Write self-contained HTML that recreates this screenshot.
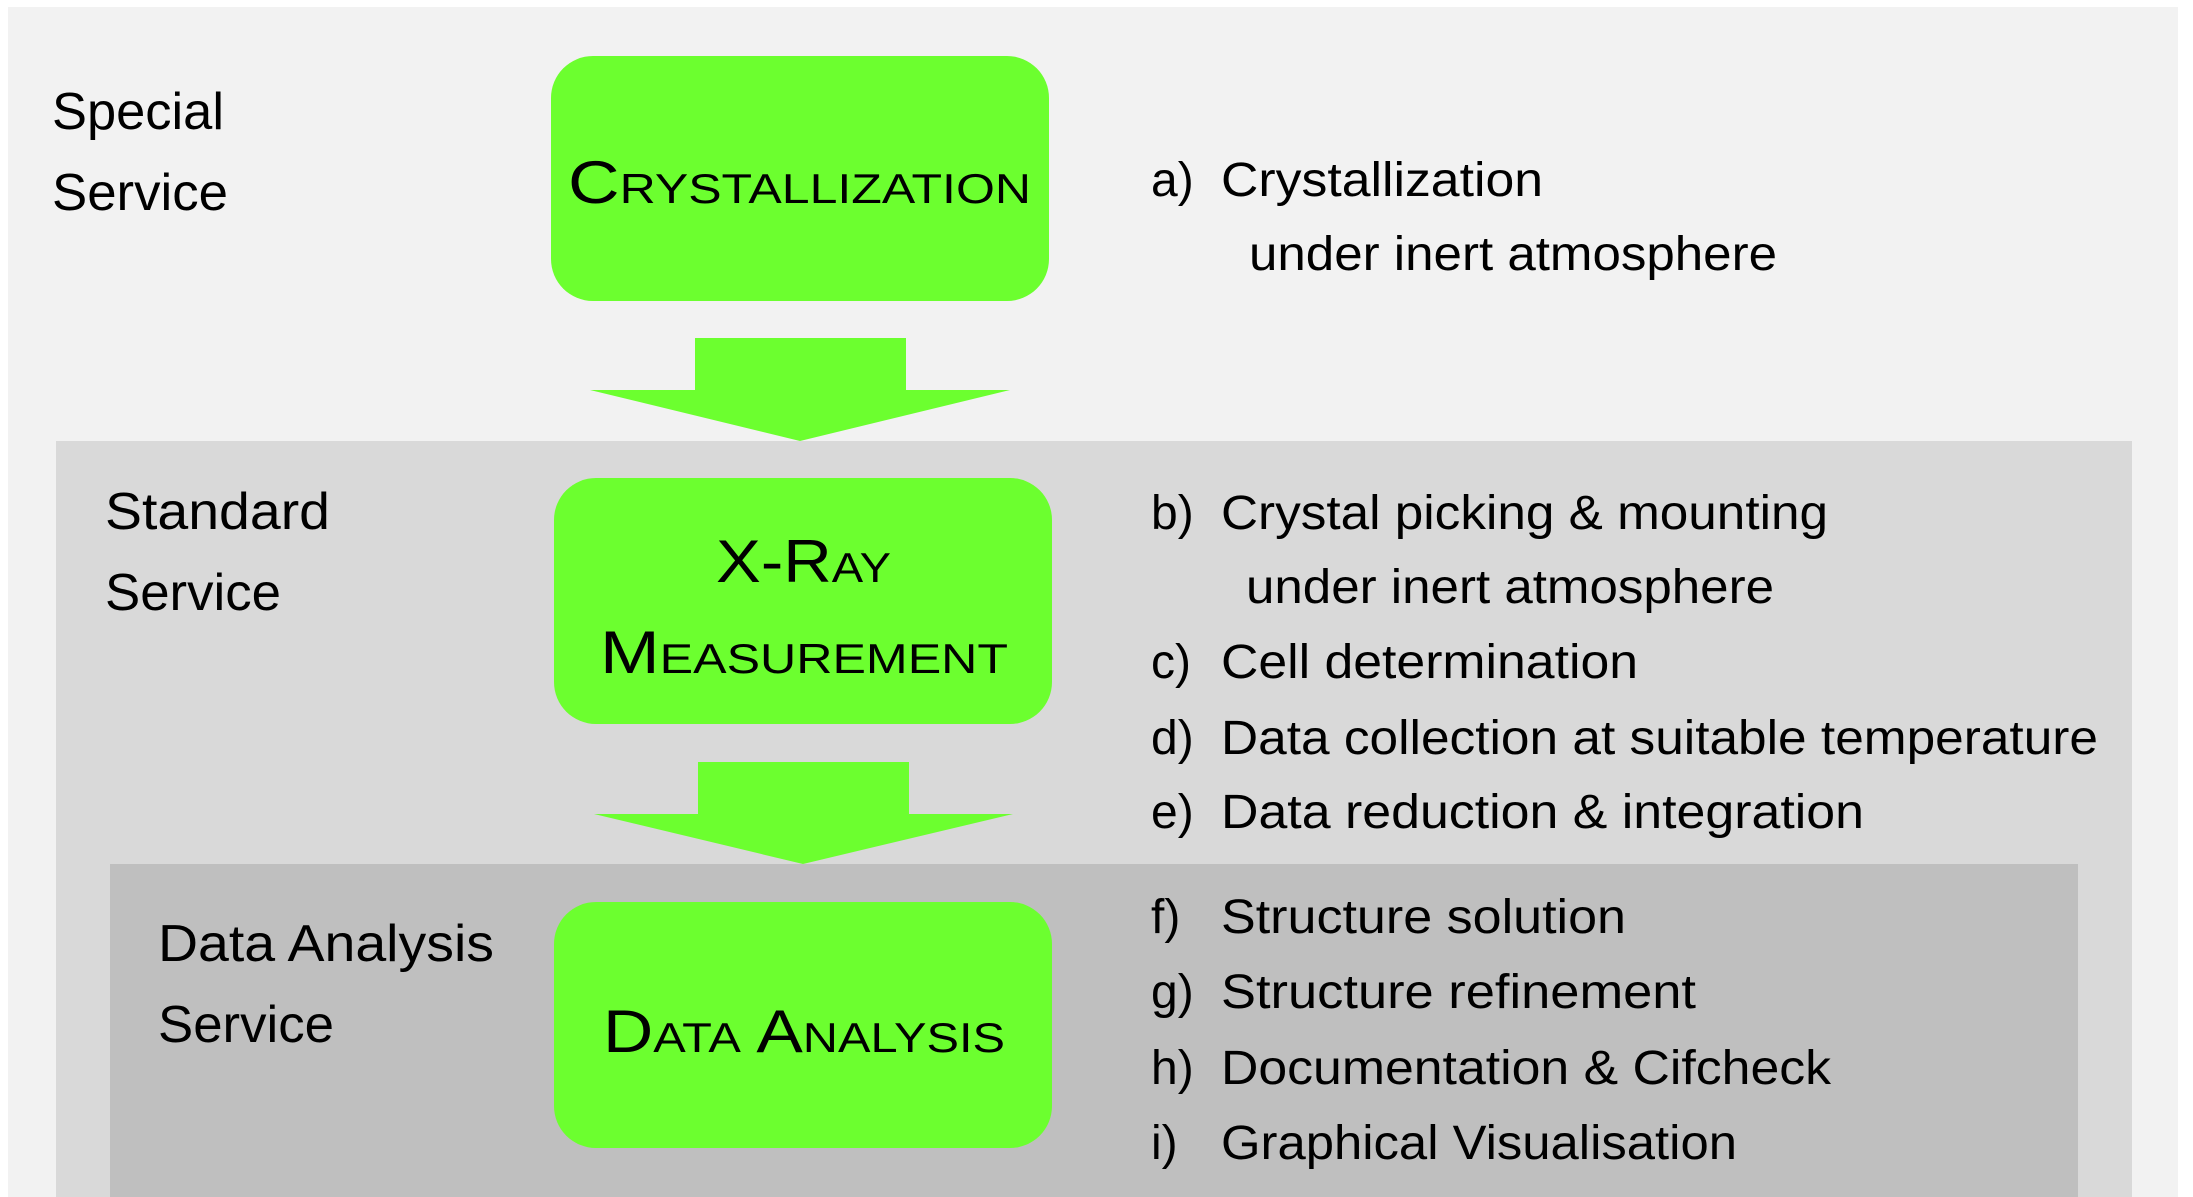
<!DOCTYPE html>
<html><head><meta charset="utf-8"><style>
html,body{margin:0;padding:0;background:#fff;}
svg{display:block;}
text{font-family:"Liberation Sans",sans-serif;fill:#000;}
.sc{font-variant:small-caps;}
</style></head><body>
<svg width="2193" height="1197" viewBox="0 0 2193 1197" xmlns="http://www.w3.org/2000/svg">
<rect x="0" y="0" width="2193" height="1197" fill="#fff"/>
<rect x="8" y="7" width="2170" height="1190" fill="#f2f2f2"/>
<rect x="56" y="441" width="2076" height="756" fill="#d9d9d9"/>
<rect x="110" y="864" width="1968" height="333" fill="#bfbfbf"/>

<rect x="551" y="56" width="498" height="245" rx="42" fill="#6cff2f"/>
<rect x="554" y="478" width="498" height="246" rx="42" fill="#6cff2f"/>
<rect x="554" y="902" width="498" height="246" rx="42" fill="#6cff2f"/>

<polygon points="695,338 906,338 906,390 1010,390 800,441 590,390 695,390" fill="#6cff2f"/>
<polygon points="698,762 909,762 909,814 1013,814 803,864 594,814 698,814" fill="#6cff2f"/>

<text class="sc" x="568" y="203" font-size="60" textLength="463" lengthAdjust="spacingAndGlyphs">Crystallization</text>
<text class="sc" x="716" y="582" font-size="60" textLength="175" lengthAdjust="spacingAndGlyphs">X-Ray</text>
<text class="sc" x="600" y="673" font-size="60" textLength="408" lengthAdjust="spacingAndGlyphs">Measurement</text>
<text class="sc" x="603" y="1052" font-size="60" textLength="402" lengthAdjust="spacingAndGlyphs">Data Analysis</text>

<g font-size="52">
<text x="52" y="129" textLength="172" lengthAdjust="spacingAndGlyphs">Special</text>
<text x="52" y="210" textLength="176" lengthAdjust="spacingAndGlyphs">Service</text>
<text x="105" y="529" textLength="225" lengthAdjust="spacingAndGlyphs">Standard</text>
<text x="105" y="610" textLength="176" lengthAdjust="spacingAndGlyphs">Service</text>
<text x="158" y="961" textLength="336" lengthAdjust="spacingAndGlyphs">Data Analysis</text>
<text x="158" y="1042" textLength="176" lengthAdjust="spacingAndGlyphs">Service</text>
</g>

<g font-size="48">
<text x="1151" y="196">a)</text><text x="1221" y="196" textLength="322" lengthAdjust="spacingAndGlyphs">Crystallization</text>
<text x="1249" y="270" textLength="528" lengthAdjust="spacingAndGlyphs">under inert atmosphere</text>
<text x="1151" y="529">b)</text><text x="1221" y="529" textLength="607" lengthAdjust="spacingAndGlyphs">Crystal picking &amp; mounting</text>
<text x="1246" y="603" textLength="528" lengthAdjust="spacingAndGlyphs">under inert atmosphere</text>
<text x="1151" y="678">c)</text><text x="1221" y="678" textLength="417" lengthAdjust="spacingAndGlyphs">Cell determination</text>
<text x="1151" y="754">d)</text><text x="1221" y="754" textLength="877" lengthAdjust="spacingAndGlyphs">Data collection at suitable temperature</text>
<text x="1151" y="828">e)</text><text x="1221" y="828" textLength="643" lengthAdjust="spacingAndGlyphs">Data reduction &amp; integration</text>
<text x="1151" y="933">f)</text><text x="1221" y="933" textLength="405" lengthAdjust="spacingAndGlyphs">Structure solution</text>
<text x="1151" y="1008">g)</text><text x="1221" y="1008" textLength="475" lengthAdjust="spacingAndGlyphs">Structure refinement</text>
<text x="1151" y="1084">h)</text><text x="1221" y="1084" textLength="610" lengthAdjust="spacingAndGlyphs">Documentation &amp; Cifcheck</text>
<text x="1151" y="1159">i)</text><text x="1221" y="1159" textLength="516" lengthAdjust="spacingAndGlyphs">Graphical Visualisation</text>
</g>
</svg>
</body></html>
